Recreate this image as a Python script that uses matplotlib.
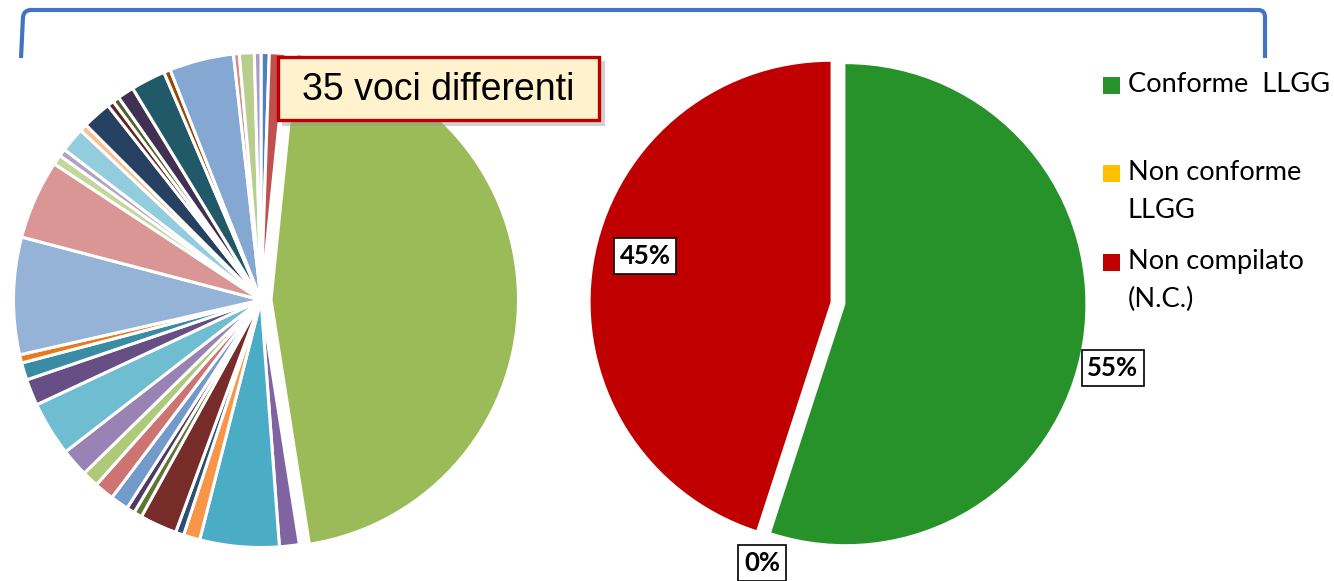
import matplotlib.pyplot as plt
from matplotlib.patches import Rectangle, PathPatch
from matplotlib.path import Path

W, H = 1334, 581

# left pie: 35 voci, clockwise from 12 o'clock (percent)
voci_valori = [0.5, 1.0, 42.6, 1.2, 4.8, 1.0, 0.5, 2.25, 0.5, 0.5,
               1.1, 1.2, 1.0, 1.7, 3.3, 1.6, 1.05, 0.5, 7.1, 4.8,
               0.6, 0.45, 1.5, 0.45, 1.75, 0.4, 0.4, 1.0, 2.1, 0.4,
               3.9, 0.35, 0.9, 0.4]
voci_colori = ['#4F81BD', '#C0504D', '#9BBB59', '#8064A2', '#4BACC6', '#F79646',
               '#2C4D75', '#772C2A', '#5F7530', '#4D3B62', '#729ACA', '#CD7371',
               '#AFC97A', '#9983B5', '#6FBDD1', '#674F86', '#3A8CA4', '#E87A1C',
               '#95B3D7', '#D99694', '#C3D69B', '#B3A2C7', '#93CDDD', '#FAC090',
               '#254061', '#632523', '#4F6228', '#403152', '#215968', '#984807',
               '#85A8D3', '#D58C8A', '#B9CD8D', '#A89BC6']

# right pie
cat_labels = ['Conforme  LLGG', 'Non conforme\nLLGG', 'Non compilato\n(N.C.)']
cat_valori = [55, 0, 45]
cat_colori = ['#27922A', '#FFC000', '#C00000']

fig = plt.figure(figsize=(W / 100, H / 100), dpi=100)


def pie_axes(cx, cy, half=275):
    return fig.add_axes([(cx - half) / W, 1 - (cy + half) / H, 2 * half / W, 2 * half / H])


# ---- left pie
ax1 = pie_axes(261, 300)
expl = [0.0] * len(voci_valori)
expl[2] = 0.04
ax1.pie(voci_valori, colors=voci_colori, startangle=90, counterclock=False,
        radius=0.99, explode=expl,
        wedgeprops=dict(edgecolor='white', linewidth=2.2))
ax1.set_xlim(-1.1, 1.1)
ax1.set_ylim(-1.1, 1.1)
ax1.axis('off')

# ---- right pie
ax2 = pie_axes(838, 303)
ax2.pie(cat_valori, colors=cat_colori, startangle=90, counterclock=False,
        radius=0.96, explode=[0.03, 0, 0.03])
ax2.set_xlim(-1.1, 1.1)
ax2.set_ylim(-1.1, 1.1)
ax2.axis('off')

# ---- overlay in pixel coordinates
ov = fig.add_axes([0, 0, 1, 1])
ov.set_xlim(0, W)
ov.set_ylim(H, 0)
ov.axis('off')

# bracket
verts = [(21, 58), (23, 17), (24, 10), (31, 10), (1258, 10), (1265, 10), (1265, 17), (1265, 58)]
codes = [Path.MOVETO, Path.LINETO, Path.CURVE3, Path.CURVE3, Path.LINETO,
         Path.CURVE3, Path.CURVE3, Path.LINETO]
ov.add_patch(PathPatch(Path(verts, codes), fill=False, edgecolor='#4472C4',
                       linewidth=3, capstyle='butt', joinstyle='round'))

# "35 voci differenti" box
ov.add_patch(Rectangle((282, 61), 323, 65, facecolor='#9A9A9A', alpha=0.45, edgecolor='none'))
ov.add_patch(Rectangle((278, 57), 321, 63, facecolor='#FFF2CC', edgecolor='#C00000', linewidth=2.4))
ov.text(438, 90, '35 voci differenti', fontsize=27, family='Liberation Sans',
        ha='center', va='center', color='black')

# percentage labels
tot = sum(cat_valori)
lab_pos = [(1113, 368), (762, 563), (645, 256)]
for v, (x, y) in zip(cat_valori, lab_pos):
    ov.text(x, y, f'{v / tot * 100:.0f}%', fontsize=18.5, fontweight='bold', family='Lato',
            ha='center', va='center', color='black',
            bbox=dict(boxstyle='square,pad=0.22', facecolor='white', edgecolor='black', linewidth=1.2))

# legend
leg_y = [85, 173, 262]
for lab, col, y in zip(cat_labels, cat_colori, leg_y):
    ov.add_patch(Rectangle((1103, y - 8), 17, 17, facecolor=col, edgecolor='none'))
    for i, line in enumerate(lab.split('\n')):
        ov.text(1128, y + i * 37, line, fontsize=19.6, family='Lato',
                ha='left', va='center', color='black')

fig.savefig('out.png', dpi=100)
